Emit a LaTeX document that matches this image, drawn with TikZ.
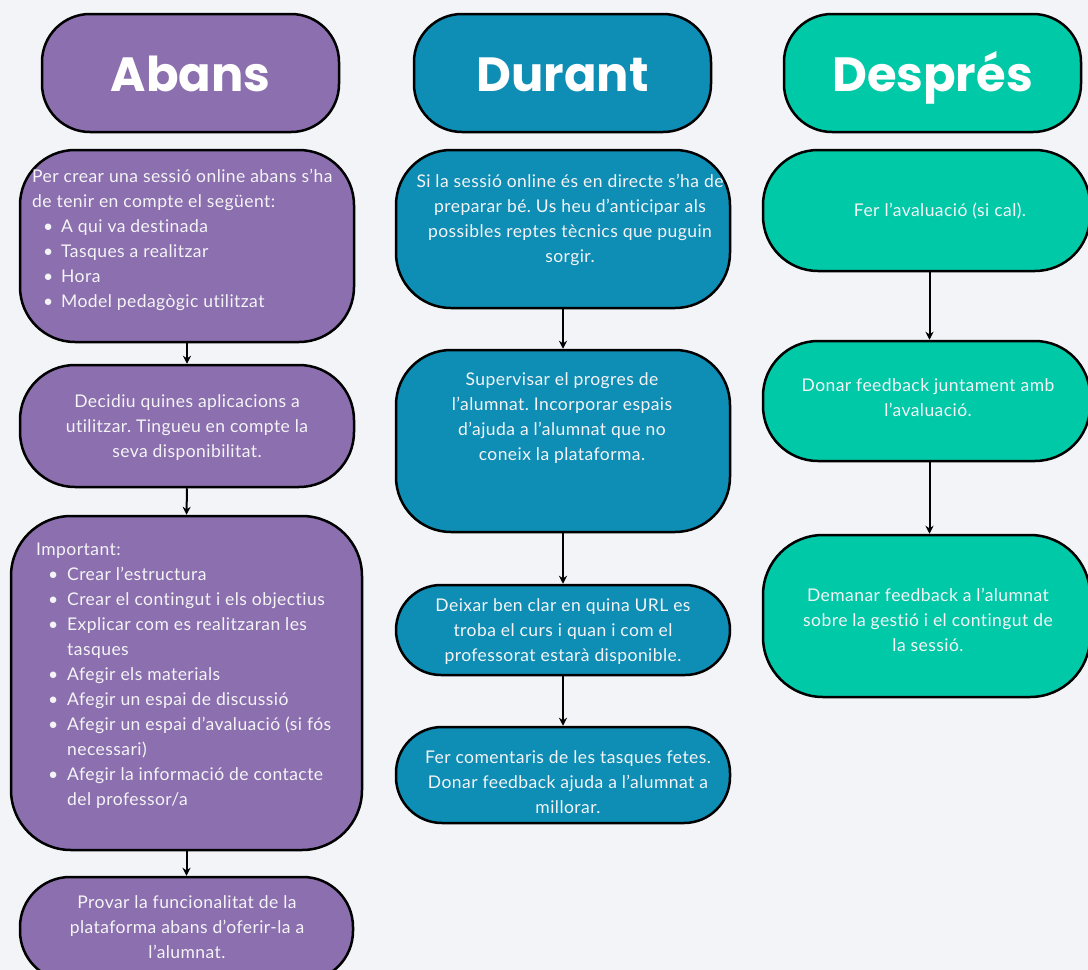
\documentclass[tikz,border=0pt]{standalone}
\usepackage{fontspec}
\setmainfont{Lato}[LetterSpace=2.5,Ligatures={NoCommon,NoRare}]
\newfontfamily\headfont{Poppins}
\usetikzlibrary{arrows.meta}
\definecolor{bgc}{HTML}{F3F4F8}
\definecolor{purp}{HTML}{8B6FAE}
\definecolor{teal}{HTML}{0E8DB5}
\definecolor{mint}{HTML}{00C9A7}
\definecolor{txt}{HTML}{F4F4F6}
\newcommand\bulA{\makebox[29pt][l]{\hspace{11pt}\textbullet}}
\newcommand\indA{\hspace{29pt}}
\newcommand\bulB{\makebox[31pt][l]{\hspace{12pt}\textbullet}}
\newcommand\indB{\hspace{31pt}}
\frenchspacing
\begin{document}
\begin{tikzpicture}[x=1pt,y=-1pt,
  box/.style={draw=black,line width=2.5pt,inner sep=0pt},
  head/.style={box,minimum width=297pt,minimum height=118pt,rounded corners=48pt},
  headtext/.style={text=white,inner sep=0pt,text height=36pt,text depth=0pt,
    font=\headfont\bfseries\fontsize{48}{54}\selectfont},
  body/.style={text=txt,font=\frenchspacing\fontsize{17.5}{25}\selectfont,inner sep=0pt},
  conn/.style={line width=2pt,-{Stealth[length=8pt,width=8pt]}}]
\useasboundingbox (0,0) rectangle (1088,970);
\fill[bgc] (0,0) rectangle (1088,970);
\begin{scope}
\clip (0,0) rectangle (1088,970);
% headers
\node[head,fill=purp] (hA) at (190.5,73) {};
\node[head,fill=teal] (hD) at (562.5,73) {};
\node[head,fill=mint] (hP) at (932.5,73) {};
\node[headtext] (thA) at (hA) {Abans};
\node[headtext] (thD) at (hD) {Durant};
\node[headtext] (thP) at (hP) {Després};
% Abans column
\node[box,fill=purp,minimum width=334pt,minimum height=192pt,rounded corners=55pt] (a1) at (187,246) {};
\node[box,fill=purp,minimum width=334pt,minimum height=122pt,rounded corners=55pt] (a2) at (187,426) {};
\node[box,fill=purp,minimum width=351pt,minimum height=334pt,rounded corners=60pt] (a3) at (186.5,683) {};
\node[box,fill=purp,minimum width=333pt,minimum height=104pt,rounded corners=50pt] (a4) at (186.5,929) {};
% Durant column
\node[box,fill=teal,minimum width=334pt,minimum height=158pt,rounded corners=55pt] (d1) at (563,229) {};
\node[box,fill=teal,minimum width=334pt,minimum height=182pt,rounded corners=55pt] (d2) at (563,441) {};
\node[box,fill=teal,minimum width=334pt,minimum height=90pt,rounded corners=45pt] (d3) at (563,630) {};
\node[box,fill=teal,minimum width=334pt,minimum height=96pt,rounded corners=46pt] (d4) at (563,775) {};
% Despres column
\node[box,fill=mint,minimum width=327pt,minimum height=121pt,rounded corners=55pt] (p1) at (926.5,210.5) {};
\node[box,fill=mint,minimum width=327pt,minimum height=120pt,rounded corners=55pt] (p2) at (926.5,401) {};
\node[box,fill=mint,minimum width=327pt,minimum height=162pt,rounded corners=60pt] (p3) at (926.5,616) {};
% texts
\node[body,align=left,anchor=west] (ta1) at (32,240) {Per crear una sessió online abans s’ha\\de tenir en compte el següent:\\\bulA A qui va destinada\\\bulA Tasques a realitzar\\\bulA Hora\\\bulA Model pedagògic utilitzat};
\node[body,align=center] (ta2) at (187,428) {Decidiu quines aplicacions a\\utilitzar. Tingueu en compte la\\seva disponibilitat.};
\node[body,align=left,anchor=west] (ta3) at (36,676) {Important:\\\bulB Crear l’estructura\\\bulB Crear el contingut i els objectius\\\bulB Explicar com es realitzaran les\\\indB tasques\\\bulB Afegir els materials\\\bulB Afegir un espai de discussió\\\bulB Afegir un espai d’avaluació (si fós\\\indB necessari)\\\bulB Afegir la informació de contacte\\\indB del professor/a};
\node[body,align=center] (ta4) at (187,927) {Provar la funcionalitat de la\\plataforma abans d’oferir-la a\\l’alumnat.};
\node[body,align=center] (td1) at (570,220) {Si la sessió online és en directe s’ha de\\preparar bé. Us heu d’anticipar als\\possibles reptes tècnics que puguin\\sorgir.};
\node[body,align=center] (td2) at (562,418) {Supervisar el progres de\\l’alumnat. Incorporar espais\\d’ajuda a l’alumnat que no\\coneix la plataforma.};
\node[body,align=center] (td3) at (563,632) {Deixar ben clar en quina URL es\\troba el curs i quan i com el\\professorat estarà disponible.};
\node[body,align=center] (td4) at (568,782) {Fer comentaris de les tasques fetes.\\Donar feedback ajuda a l’alumnat a\\millorar.};
\node[body,align=center] (tp1) at (940,211) {Fer l’avaluació (si cal).};
\node[body,align=center] (tp2) at (928,398) {Donar feedback juntament amb\\l’avaluació.};
\node[body,align=center] (tp3) at (928,620) {Demanar feedback a l’alumnat\\sobre la gestió i el contingut de\\la sessió.};
% connectors
\draw[conn] (a1.south) -- (a2.north);
\draw[conn] (a2.south) -- (a3.north);
\draw[conn] (a3.south) -- (a4.north);
\draw[conn] (d1.south) -- (d2.north);
\draw[conn] (d2.south) -- (d3.north);
\draw[conn] (d3.south) -- (d4.north);
\draw[conn] ([xshift=3pt]p1.south) -- ([xshift=3pt]p2.north);
\draw[conn] ([xshift=3pt]p2.south) -- ([xshift=3pt]p3.north);
\end{scope}
\end{tikzpicture}
\end{document}
